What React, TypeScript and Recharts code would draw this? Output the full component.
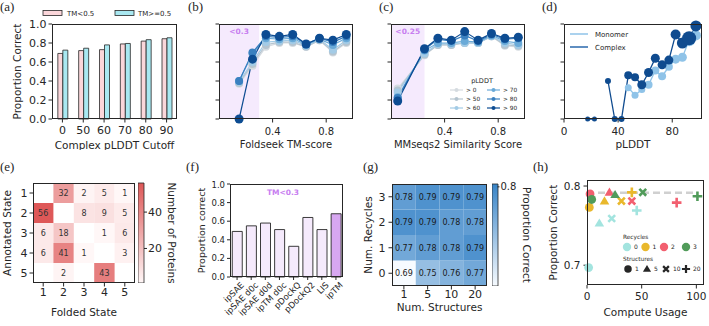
import React from 'react'
import {
  BarChart,
  Bar,
  Cell,
  LineChart,
  Line,
  ScatterChart,
  Scatter,
  XAxis,
  YAxis,
  ReferenceArea,
  ReferenceLine,
  Legend,
} from 'recharts'

// (a) proportion correct vs complex pLDDT cutoff, split on TM-score
const cutoffs = ['0', '50', '60', '70', '80', '90']
const propTmLow = [0.69, 0.72, 0.73, 0.79, 0.82, 0.845]
const propTmHigh = [0.725, 0.745, 0.78, 0.795, 0.835, 0.855]

// (b)/(c) one curve per pLDDT threshold
const plddtLevels = ['> 0', '> 50', '> 60', '> 70', '> 80', '> 90']

const tmBins = [0.15, 0.25, 0.35, 0.45, 0.55, 0.65, 0.75, 0.85, 0.95]
const tmCut = 0.3
const tmCurves = [
  [0.37, 0.56, 0.76, 0.8, 0.8, 0.76, 0.83, 0.7, 0.8],
  [0.38, 0.58, 0.78, 0.81, 0.81, 0.76, 0.83, 0.71, 0.81],
  [0.39, 0.6, 0.81, 0.82, 0.83, 0.77, 0.84, 0.73, 0.83],
  [0.4, 0.69, 0.85, 0.84, 0.85, 0.78, 0.84, 0.78, 0.85],
  [0.4, 0.7, 0.87, 0.86, 0.87, 0.79, 0.85, 0.81, 0.87],
  [0.0, 0.63, 0.89, 0.87, 0.89, 0.79, 0.85, 0.83, 0.89],
]

const seqBins = [0.05, 0.25, 0.35, 0.45, 0.55, 0.65, 0.75, 0.85, 0.95]
const seqCut = 0.25
const seqCurves = [
  [0.32, 0.67, 0.78, 0.78, 0.8, 0.8, 0.87, 0.77, 0.76],
  [0.3, 0.68, 0.78, 0.78, 0.8, 0.8, 0.87, 0.78, 0.77],
  [0.28, 0.69, 0.79, 0.79, 0.8, 0.8, 0.87, 0.8, 0.78],
  [0.23, 0.72, 0.8, 0.8, 0.82, 0.81, 0.88, 0.82, 0.8],
  [0.22, 0.73, 0.84, 0.82, 0.88, 0.82, 0.89, 0.84, 0.85],
  [0.19, 0.74, 0.85, 0.83, 0.92, 0.83, 0.9, 0.85, 0.86],
]

// (d) accuracy per pLDDT bin
const plddtBins = [17.5, 22.5, 27.5, 32.5, 37.5, 42.5, 47.5, 52.5, 57.5, 62.5, 67.5, 72.5, 77.5, 82.5, 87.5, 92.5, 97.5]
const monomerProp = [null, null, null, null, null, null, 0.33, 0.25, 0.31, 0.36, 0.51, 0.45, 0.55, 0.63, 0.65, 0.83, 0.88]
const complexProp = [0, 0, null, 0.4, 0, 0, 0.46, 0.44, 0.36, 0.49, 0.64, 0.57, 0.62, 0.89, 0.8, 0.85, 0.98]

// (e) annotated vs folded state counts (row = annotated)
const foldedStates = [1, 2, 3, 4, 5]
const annotatedStates = [1, 2, 3, 4, 5]
const stateCounts: (number | null)[][] = [
  [null, 32, 2, 5, 1],
  [56, null, 8, 9, 5],
  [6, 18, null, 1, 6],
  [6, 41, 1, null, 3],
  [null, 2, null, 43, null],
]

// (f) interface scores on TM<0.3 pairs
const scoreNames = ['ipSAE', 'ipSAE d0c', 'ipSAE d0d', 'ipTM d0c', 'pDockQ', 'pDockQ2', 'LIS', 'ipTM']
const scoreProp = [0.49, 0.55, 0.58, 0.51, 0.33, 0.64, 0.51, 0.68]

// (g)/(h) recycles x structures
const recycleLevels = [0, 1, 2, 3]
const structureCounts = [1, 5, 10, 20]
const gridProp = [
  [0.69, 0.75, 0.76, 0.77],
  [0.77, 0.78, 0.78, 0.79],
  [0.79, 0.79, 0.78, 0.78],
  [0.78, 0.79, 0.79, 0.79],
]
const gridScale = [0.695, 0.803]
const computeUsage = [
  [1.5, 11.3, 22.6, 45.5],
  [2.1, 16, 31.5, 41],
  [2.8, 20.5, 41, 82],
  [4.3, 25.7, 51, 101],
]
const computeProp = [
  [0.697, 0.753, 0.759, 0.769],
  [0.773, 0.781, 0.781, 0.792],
  [0.79, 0.792, 0.781, 0.779],
  [0.783, 0.789, 0.792, 0.787],
]
const bestProp = 0.7916

const INK = '#262626'
const PINK = '#fbd6da'
const CYAN = '#a9e8f1'
const LAVENDER = '#f5eafc'
const PURPLE = '#d7a7f1'
const levelColors = ['#d5dbe0', '#b5c4cf', '#a3cbe6', '#6aaad8', '#3a80c0', '#0d4c92']
const MONOMER = '#8fc3e8'
const COMPLEX = '#0f4b8f'
const recycleColors = ['#a3e4df', '#e9b82c', '#f25f6f', '#519b5a']
const complexR = [2.5, 2.5, 0, 3, 3, 3, 4, 4, 4.5, 4.5, 4.5, 4.5, 4.5, 5, 5.5, 7, 5.5]
const monomerR = [0, 0, 0, 0, 0, 0, 3.5, 3.5, 3.5, 4, 4, 4, 4, 4.5, 4.5, 6, 5]

type Rect = { x: number; y: number; w: number; h: number }

const fmt1 = (v: number) => v.toFixed(1)
const unitTicks = [0, 0.2, 0.4, 0.6, 0.8, 1]

function place(r: Rect, yw: number, xh: number, top = 4, right = 4) {
  return {
    style: { position: 'absolute' as const, left: r.x - yw, top: r.y - top },
    width: r.w + yw + right,
    height: r.h + top + xh,
    margin: { top, right, bottom: 0, left: 0 },
  }
}

function Frame({ r }: { r: Rect }) {
  return (
    <div
      style={{
        position: 'absolute',
        left: r.x,
        top: r.y,
        width: r.w,
        height: r.h,
        border: `1px solid ${INK}`,
        boxSizing: 'border-box',
        pointerEvents: 'none',
      }}
    />
  )
}

function mix(a: number[], b: number[], t: number) {
  const k = Math.max(0, Math.min(1, t))
  return `rgb(${a.map((v, i) => Math.round(v + (b[i] - v) * k)).join(',')})`
}
const REDS = [[255, 247, 247], [222, 88, 88]]
const BLUES = [[247, 251, 255], [56, 132, 199]]

function Glyph({ kind, x, y, color, k = 1 }: { kind: number; x: number; y: number; color: string; k?: number }) {
  if (kind === 0) return <circle cx={x} cy={y} r={4.4 * k} fill={color} />
  if (kind === 1) {
    const s = 4.8 * k
    return <polygon points={`${x},${y - s} ${x + s},${y + s * 0.7} ${x - s},${y + s * 0.7}`} fill={color} />
  }
  if (kind === 2) {
    const s = 3.4 * k
    return <path d={`M${x - s},${y - s}L${x + s},${y + s}M${x - s},${y + s}L${x + s},${y - s}`} stroke={color} strokeWidth={2.6 * k} />
  }
  const s = 4.8 * k
  return <path d={`M${x - s},${y}H${x + s}M${x},${y - s}V${y + s}`} stroke={color} strokeWidth={2.6 * k} />
}

const axisText = (size: number) => ({ fontSize: size, fill: INK })

// ---------- (a)
function PanelA() {
  const r: Rect = { x: 52, y: 24, w: 125, h: 95 }
  const p = place(r, 52, 31, 24)
  const data = cutoffs.map((c, i) => ({ cutoff: c, low: propTmLow[i], high: propTmHigh[i] }))
  return (
    <>
      <div style={p.style}>
        <BarChart width={p.width} height={p.height} margin={p.margin} data={data} barCategoryGap="28%" barGap={0}>
          <XAxis
            dataKey="cutoff"
            height={31}
            interval={0}
            axisLine={false}
            stroke={INK}
            tickSize={3.5}
            tickMargin={3.5}
            tick={axisText(11)}
            label={{ value: 'Complex pLDDT Cutoff', position: 'insideBottom', offset: 1, fontSize: 10.5, fill: INK }}
          />
          <YAxis
            domain={[0, 1]}
            ticks={unitTicks}
            tickFormatter={fmt1}
            width={52}
            axisLine={false}
            stroke={INK}
            tickSize={3.5}
            tickMargin={2}
            tick={axisText(11)}
            label={{ value: 'Proportion Correct', angle: -90, position: 'insideLeft', offset: 17, fontSize: 10.5, fill: INK, style: { textAnchor: 'middle' } }}
          />
          <Bar dataKey="low" fill={PINK} stroke={INK} strokeWidth={0.8} isAnimationActive={false} />
          <Bar dataKey="high" fill={CYAN} stroke={INK} strokeWidth={0.8} isAnimationActive={false} />
          <Legend
            layout="horizontal"
            verticalAlign="middle"
            align="center"
            wrapperStyle={{ left: 0, top: 0, width: 180, height: 20 }}
            content={() => (
              <svg width={180} height={20}>
                <rect x={43} y={10.5} width={19} height={5} fill={PINK} stroke={INK} strokeWidth={0.8} />
                <text x={67} y={15.8} fontSize={7} fill={INK}>TM&lt;0.5</text>
                <rect x={115} y={10.5} width={19} height={5} fill={CYAN} stroke={INK} strokeWidth={0.8} />
                <text x={138} y={15.8} fontSize={7} fill={INK}>TM&gt;=0.5</text>
              </svg>
            )}
          />
        </BarChart>
      </div>
      <Frame r={r} />
    </>
  )
}

// ---------- (b) and (c)
function curveTable(bins: number[], curves: number[][]) {
  return bins.map((x, i) => {
    const row: Record<string, number> = { x }
    curves.forEach((c, k) => {
      row[`s${k}`] = c[i]
    })
    return row
  })
}

function CurvePanel({ r, bins, curves, cut, title, legend }: { r: Rect; bins: number[]; curves: number[][]; cut: number; title: string; legend?: boolean }) {
  const p = place(r, 5, 31)
  return (
    <>
      <div style={p.style}>
        <LineChart width={p.width} height={p.height} margin={p.margin} data={curveTable(bins, curves)}>
          <XAxis
            type="number"
            dataKey="x"
            domain={[0, 1]}
            ticks={[0, 0.4, 0.8]}
            tickFormatter={fmt1}
            height={31}
            axisLine={false}
            stroke={INK}
            tickSize={3.5}
            tickMargin={5}
            tick={axisText(10)}
            label={{ value: title, position: 'insideBottom', offset: 2.5, fontSize: 10, fill: INK }}
          />
          <YAxis domain={[0, 1]} ticks={unitTicks} tickFormatter={() => ''} width={5} axisLine={false} stroke={INK} tickSize={3.5} />
          <ReferenceArea
            x1={0}
            x2={cut}
            y1={0}
            y2={1}
            fill="#f5eafd"
            fillOpacity={1}
            stroke="none"
            label={{ value: `<${cut}`, position: 'insideTop', offset: 5, fill: '#c77ef0', fontSize: 7.5, fontWeight: 'bold' }}
          />
          {curves.map((_, k) => (
            <Line
              key={k}
              dataKey={`s${k}`}
              stroke={levelColors[k]}
              strokeWidth={1.2}
              dot={{ r: k === 5 ? 4.5 : 4, fill: levelColors[k], stroke: levelColors[k], strokeWidth: 0 }}
              isAnimationActive={false}
            />
          ))}
          {legend && (
            <Legend
              layout="horizontal"
              verticalAlign="middle"
              align="center"
              wrapperStyle={{ left: 0, top: 0, width: 140, height: 100 }}
              content={() => (
                <svg width={140} height={100}>
                  <text x={96} y={62.5} textAnchor="middle" fontSize={6.5} fill={INK}>pLDDT</text>
                  {plddtLevels.map((lab, k) => {
                    const x0 = k < 3 ? 64 : 101
                    const y = 70 + (k % 3) * 9
                    return (
                      <g key={lab}>
                        <line x1={x0} x2={x0 + 13} y1={y} y2={y} stroke={levelColors[k]} strokeWidth={1.2} />
                        <circle cx={x0 + 6.5} cy={y} r={2} fill={levelColors[k]} />
                        <text x={x0 + 16} y={y + 2} fontSize={5.8} fill={INK}>{lab}</text>
                      </g>
                    )
                  })}
                </svg>
              )}
            />
          )}
        </LineChart>
      </div>
      <Frame r={r} />
    </>
  )
}

// ---------- (d)
function sizedDot(radii: number[], color: string) {
  return (props: any) => {
    const { cx, cy, index } = props
    if (cy == null || Number.isNaN(cy) || !radii[index]) return <g key={index} />
    return <circle key={index} cx={cx} cy={cy} r={radii[index]} fill={color} />
  }
}

function PanelD() {
  const r: Rect = { x: 564, y: 24, w: 138, h: 95 }
  const p = place(r, 5, 31)
  const data = plddtBins.map((x, i) => ({ x, monomer: monomerProp[i], complex: complexProp[i] }))
  return (
    <>
      <div style={p.style}>
        <LineChart width={p.width} height={p.height} margin={p.margin} data={data}>
          <XAxis
            type="number"
            dataKey="x"
            domain={[0, 102]}
            ticks={[0, 40, 80]}
            height={31}
            axisLine={false}
            stroke={INK}
            tickSize={3.5}
            tickMargin={5}
            tick={axisText(10.5)}
            label={{ value: 'pLDDT', position: 'insideBottom', offset: 2.5, fontSize: 10.5, fill: INK }}
          />
          <YAxis domain={[0, 1]} ticks={unitTicks} tickFormatter={() => ''} width={5} axisLine={false} stroke={INK} tickSize={3.5} />
          <Line dataKey="monomer" stroke={MONOMER} strokeWidth={1.3} dot={sizedDot(monomerR, MONOMER)} isAnimationActive={false} />
          <Line dataKey="complex" stroke={COMPLEX} strokeWidth={1.3} dot={sizedDot(complexR, COMPLEX)} isAnimationActive={false} />
          <Legend
            layout="horizontal"
            verticalAlign="middle"
            align="center"
            wrapperStyle={{ left: 0, top: 0, width: 90, height: 40 }}
            content={() => (
              <svg width={90} height={40}>
                <line x1={11} x2={29} y1={14} y2={14} stroke={MONOMER} strokeWidth={1.5} />
                <text x={36} y={16.5} fontSize={7} fill={INK}>Monomer</text>
                <line x1={11} x2={29} y1={27} y2={27} stroke="#2a69ad" strokeWidth={1.5} />
                <text x={36} y={29.5} fontSize={7} fill={INK}>Complex</text>
              </svg>
            )}
          />
        </LineChart>
      </div>
      <Frame r={r} />
    </>
  )
}

// ---------- (e)
function PanelE() {
  const r: Rect = { x: 33, y: 183, w: 102, h: 100 }
  const p = place(r, 33, 34, 4, 2)
  const cw = r.w / foldedStates.length
  const ch = r.h / annotatedStates.length
  const flat = stateCounts.flat().filter((n): n is number => n != null)
  const lo = Math.min(...flat)
  const hi = Math.max(...flat)
  const shade = (n: number) => mix(REDS[0], REDS[1], (n - lo) / (hi - lo))
  const cells = stateCounts.flatMap((row, i) =>
    row.flatMap((n, j) => (n == null ? [] : [{ fold: foldedStates[j], annot: annotatedStates[i], n }])),
  )
  const StateCell = (s: any) => (
    <g>
      <rect x={s.cx - cw / 2} y={s.cy - ch / 2} width={cw} height={ch} fill={shade(s.payload.n)} />
      <text x={s.cx} y={s.cy + 3} textAnchor="middle" fontSize={8} fill="#333">{s.payload.n}</text>
    </g>
  )
  const cb: Rect = { x: 138, y: 183, w: 6, h: 100 }
  return (
    <>
      <div style={p.style}>
        <ScatterChart width={p.width} height={p.height} margin={p.margin}>
          <XAxis
            type="number"
            dataKey="fold"
            domain={[0.5, 5.5]}
            ticks={foldedStates}
            height={34}
            axisLine={false}
            stroke={INK}
            tickSize={3.5}
            tickMargin={2}
            tick={axisText(11)}
            label={{ value: 'Folded State', position: 'insideBottom', offset: 1.5, fontSize: 10.5, fill: INK }}
          />
          <YAxis
            type="number"
            dataKey="annot"
            domain={[0.5, 5.5]}
            reversed
            ticks={annotatedStates}
            width={33}
            axisLine={false}
            stroke={INK}
            tickSize={3.5}
            tickMargin={2}
            tick={axisText(11)}
            label={{ value: 'Annotated State', angle: -90, position: 'insideLeft', offset: 7, fontSize: 10.5, fill: INK, style: { textAnchor: 'middle' } }}
          />
          <Scatter data={cells} shape={StateCell} isAnimationActive={false} />
        </ScatterChart>
      </div>
      <Frame r={r} />
      <div style={{ position: 'absolute', left: cb.x, top: cb.y - 4 }}>
        <BarChart width={cb.w + 44} height={cb.h + 4} margin={{ top: 4, right: 0, bottom: 0, left: 0 }} data={[{ k: 'n', span: [lo, hi] }]} barCategoryGap={0}>
          <defs>
            <linearGradient id="redBar" x1="0" y1="1" x2="0" y2="0">
              <stop offset="0" stopColor={mix(REDS[0], REDS[1], 0)} />
              <stop offset="1" stopColor={mix(REDS[0], REDS[1], 1)} />
            </linearGradient>
          </defs>
          <XAxis dataKey="k" hide />
          <YAxis
            orientation="right"
            domain={[lo, hi]}
            ticks={[20, 40]}
            width={44}
            axisLine={false}
            stroke={INK}
            tickSize={3}
            tickMargin={1}
            tick={axisText(11)}
            label={{ value: 'Number of Proteins', angle: 90, position: 'insideRight', offset: 16, fontSize: 10.5, fill: INK, style: { textAnchor: 'middle' } }}
          />
          <Bar dataKey="span" fill="url(#redBar)" stroke={INK} strokeWidth={0.8} isAnimationActive={false} />
        </BarChart>
      </div>
    </>
  )
}

// ---------- (f)
function SlantTick(t: any) {
  const x = t.x + 4
  const y = t.y + 1
  return (
    <text x={x} y={y} transform={`rotate(-45 ${x} ${y})`} textAnchor="end" dy="0.6em" fontSize={8.5} fill={INK}>
      {t.payload.value}
    </text>
  )
}

function PanelF() {
  const r: Rect = { x: 230, y: 184, w: 113, h: 93 }
  const p = place(r, 36, 48)
  const best = Math.max(...scoreProp)
  const data = scoreNames.map((name, i) => ({ name, v: scoreProp[i] }))
  return (
    <>
      <div style={p.style}>
        <BarChart width={p.width} height={p.height} margin={p.margin} data={data} barCategoryGap="16%">
          <XAxis dataKey="name" interval={0} height={48} axisLine={false} stroke={INK} tickSize={3} tickMargin={1} tick={<SlantTick />} />
          <YAxis
            domain={[0, 1]}
            ticks={unitTicks}
            tickFormatter={fmt1}
            width={36}
            axisLine={false}
            stroke={INK}
            tickSize={3}
            tickMargin={2}
            tick={axisText(8.5)}
            label={{ value: 'Proportion correct', angle: -90, position: 'insideLeft', offset: 8, fontSize: 9.5, fill: INK, style: { textAnchor: 'middle' } }}
          />
          <Bar dataKey="v" stroke={INK} strokeWidth={0.9} isAnimationActive={false}>
            {data.map((d) => (
              <Cell key={d.name} fill={d.v === best ? PURPLE : LAVENDER} />
            ))}
          </Bar>
        </BarChart>
      </div>
      <Frame r={r} />
      <div style={{ position: 'absolute', left: 253, top: 188, width: 60, textAlign: 'center', fontSize: 7.5, fontWeight: 'bold', color: '#c77ef0', lineHeight: '10px' }}>
        {`TM<${tmCut}`}
      </div>
    </>
  )
}

// ---------- (g)
function PanelG() {
  const r: Rect = { x: 392, y: 184, w: 95, h: 102 }
  const p = place(r, 30, 26)
  const cw = r.w / structureCounts.length
  const ch = r.h / recycleLevels.length
  const [lo, hi] = gridScale
  const shade = (v: number) => mix(BLUES[0], BLUES[1], (v - lo) / (hi - lo))
  const cells = gridProp.flatMap((row, i) => row.map((v, j) => ({ col: j, rec: recycleLevels[i], v })))
  const GridCell = (s: any) => (
    <g>
      <rect x={s.cx - cw / 2} y={s.cy - ch / 2} width={cw} height={ch} fill={shade(s.payload.v)} />
      <text x={s.cx} y={s.cy + 3} textAnchor="middle" fontSize={8} fill="#1a1a1a">{s.payload.v.toFixed(2)}</text>
    </g>
  )
  const cb: Rect = { x: 492, y: 184, w: 5.5, h: 102 }
  return (
    <>
      <div style={p.style}>
        <ScatterChart width={p.width} height={p.height} margin={p.margin}>
          <XAxis
            type="number"
            dataKey="col"
            domain={[-0.5, structureCounts.length - 0.5]}
            ticks={structureCounts.map((_, j) => j)}
            tickFormatter={(j: number) => String(structureCounts[j])}
            height={26}
            axisLine={false}
            stroke={INK}
            tickSize={3.5}
            tickMargin={1}
            tick={axisText(11)}
            label={{ value: 'Num. Structures', position: 'insideBottom', offset: 1.5, fontSize: 10.5, fill: INK }}
          />
          <YAxis
            type="number"
            dataKey="rec"
            domain={[-0.5, recycleLevels.length - 0.5]}
            ticks={recycleLevels}
            width={30}
            axisLine={false}
            stroke={INK}
            tickSize={3.5}
            tickMargin={3}
            tick={axisText(11)}
            label={{ value: 'Num. Recycles', angle: -90, position: 'insideLeft', offset: 6, fontSize: 10.5, fill: INK, style: { textAnchor: 'middle' } }}
          />
          <Scatter data={cells} shape={GridCell} isAnimationActive={false} />
        </ScatterChart>
      </div>
      <Frame r={r} />
      <div style={{ position: 'absolute', left: cb.x, top: cb.y - 4 }}>
        <BarChart width={cb.w + 42} height={cb.h + 4} margin={{ top: 4, right: 0, bottom: 0, left: 0 }} data={[{ k: 'p', span: gridScale }]} barCategoryGap={0}>
          <defs>
            <linearGradient id="blueBar" x1="0" y1="1" x2="0" y2="0">
              <stop offset="0" stopColor={mix(BLUES[0], BLUES[1], 0)} />
              <stop offset="1" stopColor={mix(BLUES[0], BLUES[1], 1)} />
            </linearGradient>
          </defs>
          <XAxis dataKey="k" hide />
          <YAxis
            orientation="right"
            domain={gridScale}
            ticks={[0.7, 0.8]}
            tickFormatter={fmt1}
            width={42}
            axisLine={false}
            stroke={INK}
            tickSize={2}
            tickMargin={1}
            tick={axisText(10)}
            label={{ value: 'Proportion Correct', angle: 90, position: 'insideRight', offset: 12.5, fontSize: 10.5, fill: INK, style: { textAnchor: 'middle' } }}
          />
          <Bar dataKey="span" fill="url(#blueBar)" stroke={INK} strokeWidth={0.8} isAnimationActive={false} />
        </BarChart>
      </div>
    </>
  )
}

// ---------- (h)
function PanelH() {
  const r: Rect = { x: 587, y: 180, w: 117, h: 105 }
  const p = place(r, 40, 33, 4, 3)
  const maxCompute = Math.max(...computeUsage.flat())
  const series = recycleLevels.map((rec, i) => ({
    rec,
    pts: computeUsage[i].map((c, j) => ({ c, p: computeProp[i][j], kind: j })),
  }))
  const recX = [80, 98.5, 117, 139]
  const structX = [81, 100, 119, 139]
  return (
    <>
      <div style={p.style}>
        <ScatterChart width={p.width} height={p.height} margin={p.margin}>
          <XAxis
            type="number"
            dataKey="c"
            domain={[0, 107]}
            ticks={[0, 50, 100]}
            height={33}
            axisLine={false}
            stroke={INK}
            tickSize={3.5}
            tickMargin={4.5}
            tick={axisText(10.5)}
            label={{ value: 'Compute Usage', position: 'insideBottom', offset: 2.3, fontSize: 10.5, fill: INK }}
          />
          <YAxis
            type="number"
            dataKey="p"
            domain={[0.675, 0.8076]}
            ticks={[0.7, 0.8]}
            tickFormatter={fmt1}
            width={40}
            axisLine={false}
            stroke={INK}
            tickSize={3.5}
            tickMargin={3}
            tick={axisText(10.5)}
            label={{ value: 'Proportion Correct', angle: -90, position: 'insideLeft', offset: 6, fontSize: 10.5, fill: INK, style: { textAnchor: 'middle' } }}
          />
          <ReferenceLine
            segment={[{ x: 0, y: bestProp }, { x: maxCompute, y: bestProp }]}
            stroke="#d0d0d0"
            strokeWidth={2.5}
            strokeDasharray="7 4"
          />
          {series.map((s, i) => (
            <Scatter
              key={s.rec}
              data={s.pts}
              fill={recycleColors[i]}
              isAnimationActive={false}
              shape={(q: any) => <Glyph kind={q.payload.kind} x={q.cx} y={q.cy} color={recycleColors[i]} />}
            />
          ))}
          <Legend
            layout="horizontal"
            verticalAlign="middle"
            align="center"
            wrapperStyle={{ left: 0, top: 0, width: 160, height: 100 }}
            content={() => (
              <svg width={160} height={100}>
                <text x={76} y={63} fontSize={5.8} fill={INK}>Recycles</text>
                {recycleLevels.map((rec, i) => (
                  <g key={rec}>
                    <Glyph kind={0} x={recX[i]} y={71} color={recycleColors[i]} k={0.95} />
                    <text x={recX[i] + 7} y={73.2} fontSize={6} fill={INK}>{rec}</text>
                  </g>
                ))}
                <text x={76} y={85} fontSize={5.8} fill={INK}>Structures</text>
                {structureCounts.map((n, j) => (
                  <g key={n}>
                    <Glyph kind={j} x={structX[j]} y={93} color={INK} k={0.85} />
                    <text x={structX[j] + 7} y={95.2} fontSize={6} fill={INK}>{n}</text>
                  </g>
                ))}
              </svg>
            )}
          />
        </ScatterChart>
      </div>
      <Frame r={r} />
    </>
  )
}

const tags: [string, number, number][] = [
  ['(a)', 0, 0],
  ['(b)', 188, 0],
  ['(c)', 379, 0],
  ['(d)', 542, 0],
  ['(e)', 0, 160],
  ['(f)', 186, 160],
  ['(g)', 363, 160],
  ['(h)', 533, 160],
]

export default function App() {
  return (
    <div
      style={{
        position: 'absolute',
        left: 0,
        top: 0,
        width: 709,
        height: 326,
        background: '#fff',
        overflow: 'hidden',
        fontFamily: '"DejaVu Sans", sans-serif',
      }}
    >
      <PanelA />
      <CurvePanel r={{ x: 219, y: 24, w: 134, h: 95 }} bins={tmBins} curves={tmCurves} cut={tmCut} title="Foldseek TM-score" />
      <CurvePanel r={{ x: 391, y: 24, w: 134, h: 95 }} bins={seqBins} curves={seqCurves} cut={seqCut} title="MMseqs2 Similarity Score" legend />
      <PanelD />
      <PanelE />
      <PanelF />
      <PanelG />
      <PanelH />
      {tags.map(([t, x, y]) => (
        <div key={t} style={{ position: 'absolute', left: x, top: y, fontFamily: '"Liberation Serif", serif', fontSize: 13, lineHeight: '14px', color: INK }}>
          {t}
        </div>
      ))}
    </div>
  )
}
